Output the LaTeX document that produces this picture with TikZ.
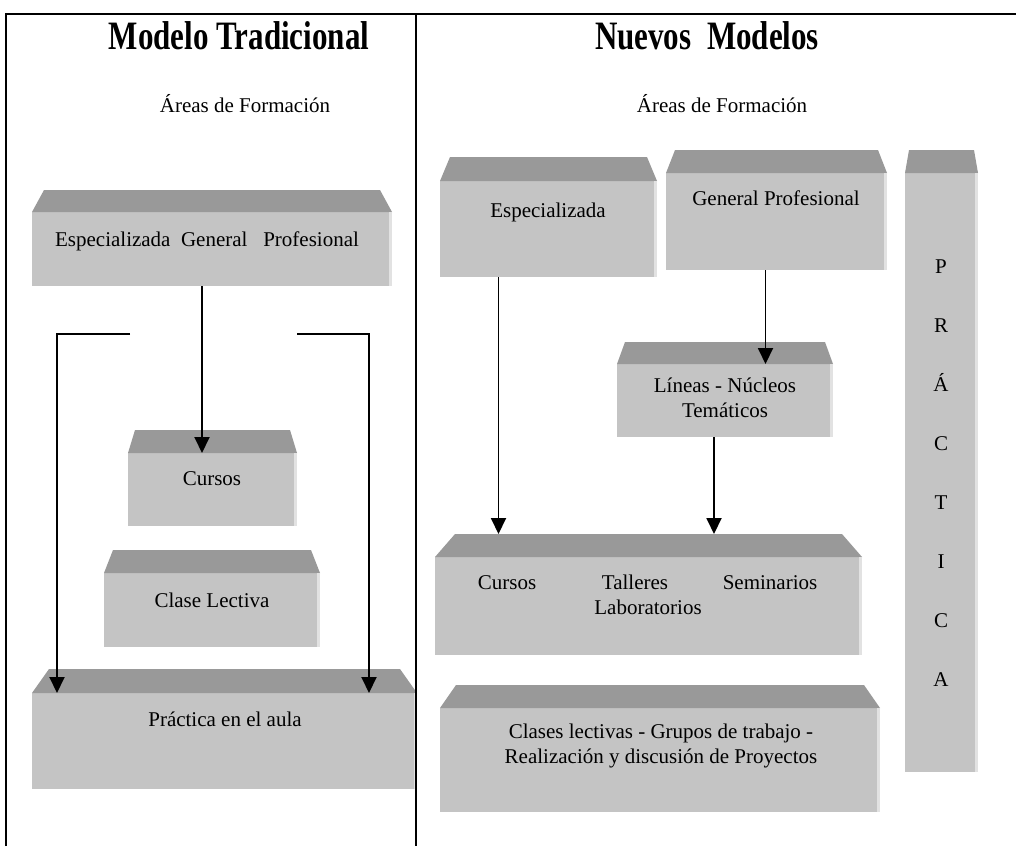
\documentclass[tikz,border=0pt]{standalone}
\usepackage{fontspec}
\setmainfont{Liberation Serif}
\usepackage{graphicx}
\usetikzlibrary{arrows.meta}

\definecolor{lidgray}{HTML}{999999}
\definecolor{bodygray}{HTML}{C4C4C4}
\definecolor{edgegray}{HTML}{E2E2E2}

\tikzset{
  slabbody/.style={rectangle, fill=bodygray, draw=none, inner sep=0pt, outer sep=0pt},
  lidface/.style={fill=lidgray},
  rimface/.style={fill=edgegray},
  boxlines/.style={font=\fontsize{21}{25.5}\selectfont, inner sep=0pt, align=center},
  boxtext/.style={font=\fontsize{21}{25.5}\selectfont, inner sep=0pt, text height=14pt, text depth=4pt},
  heading/.style={font=\fontsize{31}{34}\selectfont\bfseries, inner sep=0pt},
  frameline/.style={line width=1.8pt, black},
  flow/.style={line width=1.9pt, -{Triangle[length=16pt,width=15pt]}},
}

% slab: name, left, right, lid top, body top, body bottom, lid inset
\newcommand\slab[7]{%
  \node[slabbody, minimum width={(#3-#2)*1pt}, minimum height={(#6-#5)*1pt}]
    (#1) at ({(#2+#3)/2},{(#5+#6)/2}) {};
  \fill[lidface] (#1.north west) -- ++(#7,{#4-#5}) -- ++({#3-#2-2*#7},0)
    -- (#1.north east) -- cycle;
  \fill[rimface] ([xshift=-3pt]#1.north east) rectangle (#1.south east);
  \coordinate (#1-lid) at ({(#2+#3)/2},#4);
}

\begin{document}
\begin{tikzpicture}[x=1pt, y=-1pt]
  \fill[white] (0,0) rectangle (1016,846);
  \useasboundingbox (0,0) rectangle (1016,846);

  % headings
  \node[heading] (tleft) at (239,36) {\scalebox{1}[1.3]{Modelo Tradicional}};
  \node[heading] (tright) at (707,36) {\scalebox{1}[1.3]{Nuevos\ \ Modelos}};
  \node[boxtext] (aleft) at (245,107) {Áreas de Formación};
  \node[boxtext] (aright) at (722,107) {Áreas de Formación};

  % traditional model
  \slab{lsp}{32}{392}{190}{212}{286}{12}
  \slab{lcur}{128}{297}{430}{453}{526}{7}
  \slab{lcla}{104}{320}{550}{573}{647}{9}
  \slab{lpra}{32}{417}{669}{693}{789}{17}

  \node[boxtext] (lspt) at (207,241) {Especializada\ \ General\ \ \ Profesional};
  \node[boxtext] (lcurt) at (212,480) {Cursos};
  \node[boxtext] (lclat) at (212,602) {Clase Lectiva};
  \node[boxtext] (lprat) at (225,721) {Práctica en el aula};

  % new models
  \slab{rsp}{440}{657}{157}{181}{277}{10}
  \slab{rgen}{666}{887}{150}{173}{270}{9}
  \slab{rlin}{617}{833}{342}{364}{437}{8}
  \slab{rcts}{435}{862}{534}{557}{655}{20}
  \slab{rcla}{440}{880}{685}{708}{812}{16}
  \slab{rpra}{905}{978}{150}{173}{772}{4}

  \node[boxtext] (rspt) at (548,212) {Especializada};
  \node[boxtext] (rgent) at (776,200) {General Profesional};
  \node[boxlines] (rlint) at (725,398) {Líneas - Núcleos\\Temáticos};
  \node[boxtext] (rcur) at (507,584) {Cursos};
  \node[boxtext] (rtal) at (635,584) {Talleres};
  \node[boxtext] (rsem) at (770,584) {Seminarios};
  \node[boxtext] (rlab) at (648,609) {Laboratorios};
  \node[boxlines] (rclat) at (661,746) {Clases lectivas - Grupos de trabajo -\\Realización y discusión de Proyectos};
  \foreach \ch [count=\i from 0] in {P,R,Á,C,T,I,C,A}
    \node[boxtext] (letter\i) at (941,{268+59*\i}) {\ch};

  % connectors, traditional model
  \draw[flow] ([xshift=-10pt]lsp.south) -- ([xshift=-10pt]lsp.south |- lcur.north);
  \coordinate (bl) at (130,334);
  \coordinate (blc) at (57,334);
  \coordinate (br) at (297,334);
  \coordinate (brc) at (369,334);
  \draw[flow] (bl) -- (blc) -- (blc |- lpra.north);
  \draw[flow] (br) -- (brc) -- (brc |- lpra.north);

  % connectors, new models
  \draw[flow] ([xshift=-50pt]rsp.south) -- ([xshift=-50pt]rsp.south |- rcts-lid);
  \draw[flow] ([xshift=-11pt]rgen.south) -- ([xshift=-11pt]rgen.south |- rlin.north);
  \draw[flow] ([xshift=-11pt]rlin.south) -- ([xshift=-11pt]rlin.south |- rcts-lid);

  % table rules
  \draw[frameline] (6,846) -- (6,14) -- (1016,14);
  \draw[frameline] (416,14) -- (416,846);
\end{tikzpicture}
\end{document}
